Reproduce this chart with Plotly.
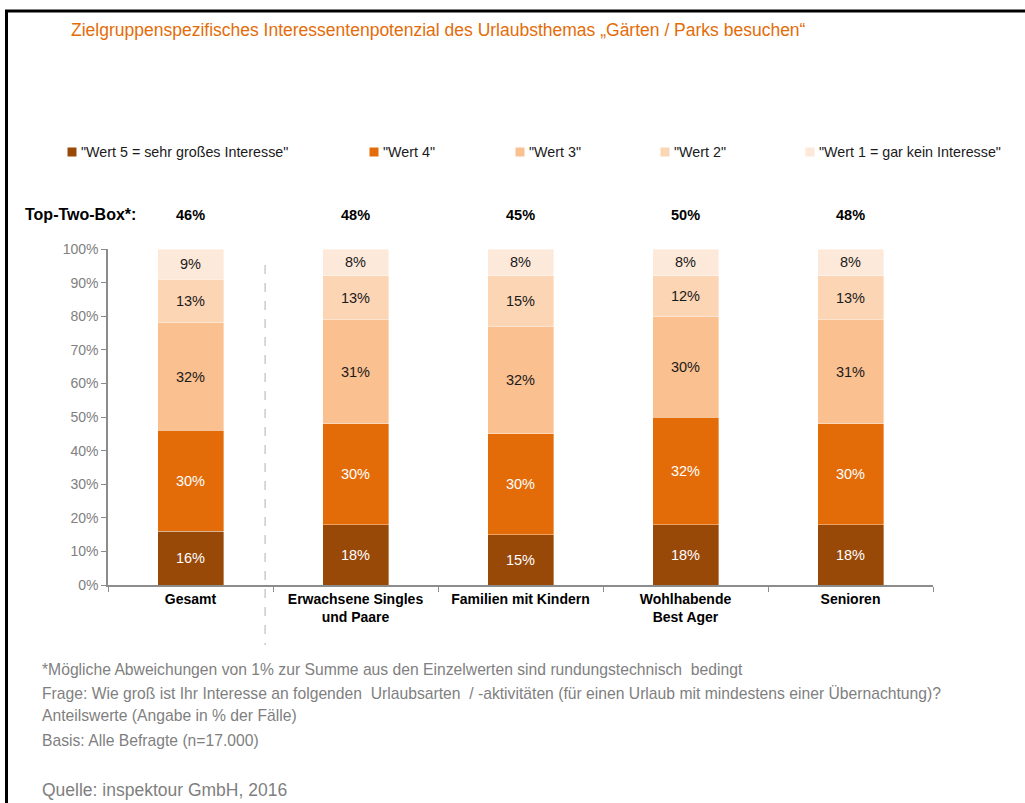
import plotly.graph_objects as go

categories = ["Gesamt", "Erwachsene Singles<br>und Paare", "Familien mit Kindern",
              "Wohlhabende<br>Best Ager", "Senioren"]
series_names = ['"Wert 5 = sehr großes Interesse"', '"Wert 4"', '"Wert 3"', '"Wert 2"',
                '"Wert 1 = gar kein Interesse"']
wert5 = [16, 18, 15, 18, 18]
wert4 = [30, 30, 30, 32, 30]
wert3 = [32, 31, 32, 30, 31]
wert2 = [13, 13, 15, 12, 13]
wert1 = [9, 8, 8, 8, 8]
top_two_box = [46, 48, 45, 50, 48]
y_ticks = [0, 10, 20, 30, 40, 50, 60, 70, 80, 90, 100]
y_tick_labels = [f"{v}%" for v in y_ticks]

series_values = [wert5, wert4, wert3, wert2, wert1]
colors = ["#984807", "#E36C09", "#FAC090", "#FCD5B5", "#FDE9D9"]
text_colors = ["#ffffff", "#ffffff", "#1a1a1a", "#1a1a1a", "#1a1a1a"]

FONT = "Liberation Sans, Arial"
W, H = 1025, 803
L, R = 108, 933      # plot area px
T, B = 249, 585

def px(x):
    return (x - L) / (R - L)

def py(y):
    return (B - y) / (B - T)

fig = go.Figure()
for name, vals, col, tcol in zip(series_names, series_values, colors, text_colors):
    fig.add_trace(go.Bar(
        x=categories, y=vals, name=name,
        marker=dict(color=col, line=dict(color="rgba(255,255,255,0.6)", width=0.6)),
        text=[f"{v}%" for v in vals], textposition="inside",
        insidetextanchor="middle", textangle=0,
        textfont=dict(color=tcol, size=14.5, family=FONT),
        width=0.4, showlegend=False, hoverinfo="skip",
    ))

annotations = []
shapes = []

# Title
annotations.append(dict(
    text="Zielgruppenspezifisches Interessentenpotenzial des Urlaubsthemas „Gärten / Parks besuchen“",
    xref="paper", yref="paper", x=px(69), y=py(30), xanchor="left", yanchor="middle",
    showarrow=False, font=dict(size=17.5, color="#E36C09", family=FONT)))

# Legend (manual)
legend_x = [72, 374, 520, 665, 810]
for name, col, lx in zip(series_names, colors, legend_x):
    shapes.append(dict(type="rect", xref="paper", yref="paper",
                       x0=px(lx - 4.5), x1=px(lx + 4.5), y0=py(152 + 4.5), y1=py(152 - 4.5),
                       fillcolor=col, line=dict(width=0)))
    annotations.append(dict(text=name, xref="paper", yref="paper", x=px(lx + 7), y=py(152),
                            xanchor="left", yanchor="middle", showarrow=False,
                            font=dict(size=14.3, color="#1a1a1a", family=FONT)))

# Top-Two-Box row
annotations.append(dict(text="<b>Top-Two-Box*:</b>", xref="paper", yref="paper",
                        x=px(23), y=py(215), xanchor="left", yanchor="middle", showarrow=False,
                        font=dict(size=16, color="#000000", family=FONT)))
for c, v in zip(categories, top_two_box):
    annotations.append(dict(text=f"<b>{v}%</b>", xref="x", yref="paper", x=c, y=py(215),
                            xanchor="center", yanchor="middle", showarrow=False,
                            font=dict(size=14.5, color="#000000", family=FONT)))

# Footer
footer = [
    ("*Mögliche Abweichungen von 1% zur Summe aus den Einzelwerten sind rundungstechnisch  bedingt", 669, 15.7),
    ("Frage: Wie groß ist Ihr Interesse an folgenden  Urlaubsarten  / -aktivitäten (für einen Urlaub mit mindestens einer Übernachtung)?", 693, 15.7),
    ("Anteilswerte (Angabe in % der Fälle)", 715, 15.7),
    ("Basis: Alle Befragte (n=17.000)", 740, 15.7),
    ("Quelle: inspektour GmbH, 2016", 790, 17.5),
]
for txt, yy, sz in footer:
    annotations.append(dict(text=txt, xref="paper", yref="paper", x=px(40), y=py(yy),
                            xanchor="left", yanchor="middle", showarrow=False,
                            font=dict(size=sz, color="#7f7f7f", family=FONT)))

# Dashed separator line
shapes.append(dict(type="line", xref="x", yref="paper", x0=0.452, x1=0.452,
                   y0=py(265), y1=py(645), line=dict(color="#b0b0b0", width=1, dash="dash")))

# Frame lines (top and left)
shapes.append(dict(type="line", xref="paper", yref="paper", x0=px(5), x1=px(1025),
                   y0=py(11), y1=py(11), line=dict(color="#000000", width=3)))
shapes.append(dict(type="line", xref="paper", yref="paper", x0=px(6.5), x1=px(6.5),
                   y0=py(10), y1=py(803), line=dict(color="#000000", width=3)))

fig.update_layout(
    width=W, height=H, barmode="stack", bargap=0.6,
    margin=dict(l=L, r=W - R, t=T, b=H - B, pad=0),
    paper_bgcolor="white", plot_bgcolor="white",
    font=dict(family=FONT, size=13),
    annotations=annotations, shapes=shapes,
    xaxis=dict(type="category", range=[-0.5, 4.5], showline=True, linecolor="#8c8c8c",
               linewidth=1.5, ticks="outside", tickson="boundaries", ticklen=5,
               tickcolor="#8c8c8c", showgrid=False,
               tickfont=dict(size=14, color="#000000", weight="bold", family=FONT)),
    yaxis=dict(range=[0, 100], tickmode="array", tickvals=y_ticks, ticktext=y_tick_labels,
               showline=True, linecolor="#8c8c8c", linewidth=1.5, ticks="outside", ticklen=5,
               tickcolor="#8c8c8c", showgrid=False, zeroline=False,
               tickfont=dict(size=14, color="#808080", family=FONT)),
)

fig.write_html("out.html")
